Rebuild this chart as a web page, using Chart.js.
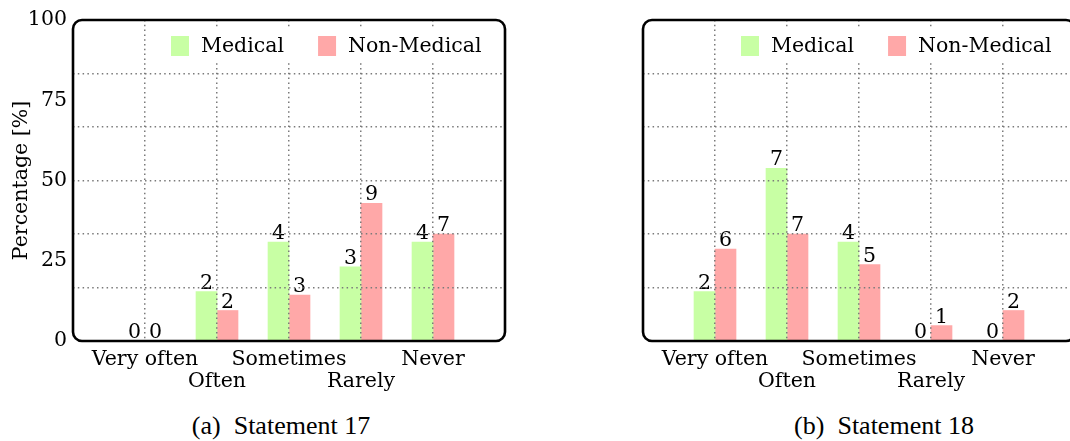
<!DOCTYPE html>
<html>
<head>
<meta charset="utf-8">
<script src="https://cdn.jsdelivr.net/npm/chart.js@4.4.1/dist/chart.umd.min.js"></script>
<style>
  html, body { margin: 0; padding: 0; background: #fff; }
  body { width: 1070px; height: 441px; overflow: hidden; position: relative; }
  canvas { position: absolute; top: 0; }
  #cA { left: 0; }
  #cB { left: 570px; }
  .cap { position: absolute; top: 411px; font-family: "Liberation Serif", serif; font-size: 26px; line-height: 30px; color: #000; white-space: pre; transform: translateX(-50%); }
</style>
</head>
<body>
<canvas id="cA" width="535" height="400"></canvas>
<canvas id="cB" width="535" height="400"></canvas>
<div class="cap" style="left:281px">(a)  Statement 17</div>
<div class="cap" style="left:884px">(b)  Statement 18</div>
<script>
const categories = ['Very often', 'Often', 'Sometimes', 'Rarely', 'Never'];
const seriesNames = ['Medical', 'Non-Medical'];
const yTicks = [0, 25, 50, 75, 100];
// percentages
const medical17 = [0, 15.4, 30.8, 23.1, 30.8];
const nonMedical17 = [0, 9.5, 14.3, 42.9, 33.3];
const medical18 = [15.4, 53.8, 30.8, 0, 0];
const nonMedical18 = [28.6, 33.3, 23.8, 4.8, 9.5];
// counts printed over the bars
const medicalCount17 = [0, 2, 4, 3, 4];
const nonMedicalCount17 = [0, 2, 3, 9, 7];
const medicalCount18 = [2, 7, 4, 0, 0];
const nonMedicalCount18 = [6, 7, 5, 1, 2];

const GREEN = 'rgb(200,255,164)';
const PINK = 'rgb(255,168,168)';
const FONT = '"DejaVu Serif", serif';
const FS = 20.5;
const GRID = { color: '#7a7a7a', lineWidth: 1.5 };
const DASH = [1.5, 3.3];

Chart.defaults.color = '#000';
Chart.defaults.font.family = FONT;
Chart.defaults.font.size = FS;

const barLabels = {
  id: 'barLabels',
  afterDatasetsDraw(chart) {
    const ctx = chart.ctx;
    ctx.save();
    ctx.font = FS + 'px ' + FONT;
    ctx.fillStyle = '#000';
    ctx.textAlign = 'center';
    ctx.textBaseline = 'alphabetic';
    chart.data.datasets.forEach((ds, d) => {
      chart.getDatasetMeta(d).data.forEach((bar, i) => {
        ctx.fillText(String(ds.counts[i]), bar.x, bar.y - 3);
      });
    });
    ctx.restore();
  }
};

const frameLegend = {
  id: 'frameLegend',
  afterDraw(chart) {
    const ctx = chart.ctx;
    const a = chart.chartArea;
    ctx.save();
    ctx.font = FS + 'px ' + FONT;
    let x = a.left + 98;
    const bx0 = x;
    const widths = chart.data.datasets.map(ds => ctx.measureText(ds.label).width);
    ctx.fillStyle = '#fff';
    ctx.fillRect(bx0 - 9, a.top + 7, a.right - bx0 + 9, 35);
    ctx.textBaseline = 'middle';
    ctx.textAlign = 'left';
    chart.data.datasets.forEach((ds, d) => {
      ctx.fillStyle = ds.backgroundColor;
      ctx.fillRect(x, a.top + 16, 18, 20);
      x += 18 + 12;
      ctx.fillStyle = '#000';
      ctx.fillText(ds.label, x, a.top + 27);
      x += widths[d] + 34;
    });
    const r = 9, l = a.left, t = a.top, rr = a.right, b = a.bottom;
    ctx.beginPath();
    ctx.moveTo(l + r, t);
    ctx.lineTo(rr - r, t);
    ctx.arcTo(rr, t, rr, t + r, r);
    ctx.lineTo(rr, b - r);
    ctx.arcTo(rr, b, rr - r, b, r);
    ctx.lineTo(l + r, b);
    ctx.arcTo(l, b, l, b - r, r);
    ctx.lineTo(l, t + r);
    ctx.arcTo(l, t, l + r, t, r);
    ctx.closePath();
    ctx.lineWidth = 2.6;
    ctx.strokeStyle = '#000';
    ctx.stroke();
    ctx.restore();
  }
};

function makeChart(id, med, non, medC, nonC, showY) {
  return new Chart(document.getElementById(id), {
    type: 'bar',
    data: {
      datasets: [
        { label: seriesNames[0], data: med.map((v, i) => ({ x: i, y: v })), counts: medC,
          backgroundColor: GREEN, borderWidth: 0, barThickness: 21 },
        { label: seriesNames[1], data: non.map((v, i) => ({ x: i, y: v })), counts: nonC,
          backgroundColor: PINK, borderWidth: 0, barThickness: 21 }
      ]
    },
    options: {
      responsive: false,
      animation: false,
      events: [],
      layout: { padding: { left: 0, top: 20, right: 30, bottom: 9 } },
      plugins: { legend: { display: false }, tooltip: { enabled: false }, title: { display: false } },
      scales: {
        x: {
          type: 'linear', min: -1, max: 5, offset: false,
          afterBuildTicks: s => { s.ticks = categories.map((c, i) => ({ value: i })); },
          afterFit: s => { s.height = 50; },
          ticks: {
            autoSkip: false, maxRotation: 0, minRotation: 0, padding: 7,
            font: { family: FONT, size: FS, lineHeight: 1.1 },
            callback: (v, i) => (i % 2 === 1 ? ['', categories[i]] : categories[i])
          },
          grid: { offset: false, drawTicks: false, color: GRID.color, lineWidth: GRID.lineWidth, z: 1 },
          border: { display: false, dash: DASH }
        },
        y: {
          type: 'linear', position: 'left', min: 0, max: 100,
          afterBuildTicks: s => { s.ticks = yTicks.map(v => ({ value: v })); },
          afterFit: s => { s.width = 73; },
          ticks: { display: showY, padding: 6, font: { family: FONT, size: FS } },
          grid: { display: false, drawTicks: false },
          border: { display: false },
          title: { display: showY, text: 'Percentage [%]', padding: { top: 9, bottom: 0 },
                   font: { family: FONT, size: FS } }
        },
        y2: {
          type: 'linear', axis: 'y', position: 'left', min: 0, max: 100,
          afterBuildTicks: s => { s.ticks = [1, 2, 3, 4, 5].map(k => ({ value: k * 100 / 6 })); },
          afterFit: s => { s.width = 0; },
          ticks: { display: false },
          grid: { drawTicks: false, color: GRID.color, lineWidth: GRID.lineWidth, z: 1 },
          border: { display: false, dash: DASH }
        }
      }
    },
    plugins: [barLabels, frameLegend]
  });
}

makeChart('cA', medical17, nonMedical17, medicalCount17, nonMedicalCount17, true);
makeChart('cB', medical18, nonMedical18, medicalCount18, nonMedicalCount18, false);
</script>
</body>
</html>
